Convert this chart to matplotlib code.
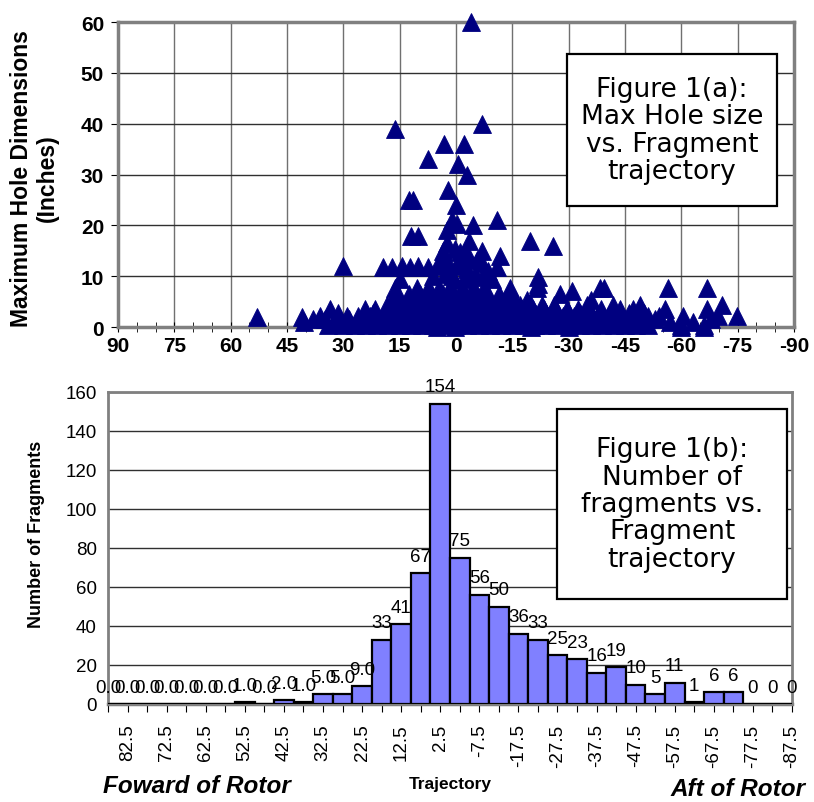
import matplotlib
matplotlib.use("Agg")
import matplotlib.pyplot as plt
from matplotlib.patches import Rectangle

plt.rcParams['font.family'] = 'Liberation Sans'
plt.rcParams['axes.unicode_minus'] = False

# ---- Figure 1(a): max hole size vs trajectory ----
# isolated points above the dense band
upper_traj = [-4, 16.3, -7, 3.2, -2, 7.5, -0.5, -3, 2, 12.5, 11.5, 0,
              12, 10, 2.4, -0.3, -4.5, -11, 1, -19.7, -25.8, 30, 53, 41, 40.5,
              3.5, 0.3, -1, -3, -7, -11.7, -2.5,
              19.4, 17, 14.4, 12.3, 10.1, 7.5, -7, -11, 5, 2, 0, -3,
              15, -2, -7, -21.8, -21.8, 6, 3, 1, -5, 0.5, -9.5,
              -31, -14.9, -60, -66, 5, 0.3, -20, -30,
              4, -1.5, -5.5, 2.5, -3.5, -8.5]
upper_hole = [60, 39, 40, 36, 36, 33, 32, 30, 27, 25, 25, 24,
              18, 18, 19, 20.3, 20, 21, 21, 17, 16, 12, 2, 2, 1,
              15, 15.3, 14.8, 14.5, 15, 14, 14,
              11.8, 11.8, 12, 11.8, 12, 11.8, 12.6, 11.8, 12, 12.5, 12, 11.5,
              9.5, 9.4, 9.8, 9.8, 8.5, 10, 10.5, 10, 10.5, 9.5, 9.5,
              7, 6, 0, 0, 0, 0, 0, 0,
              13, 12.8, 13.2, 16.5, 17, 11]

# dense band near the axis: one list of trajectories per height level
band_levels = [0.3, 0.9, 1.5, 2.1, 2.8, 3.5, 4.4, 5.4, 6.4, 7.6]
band_rows = [
    [34, 30, 27, 24, 21, 18, 15, 12, 9, 6, 3, 0, -3, -6, -9, -12, -15, -18,
     -21, -24, -27, -30, -33, -36, -39, -42, -45, -48, -51, -60, -66],
    [32.5, 25.5, 22.5, 19.5, 16.5, 13.5, 10.5, 7.5, 4.5, 1.5, -1.5, -4.5,
     -7.5, -10.5, -13.5, -16.5, -19.5, -22.5, -25.5, -28.5, -31.5, -34.5,
     -37.5, -40.5, -43.5, -46.5, -49.5, -57, -63],
    [38, 35, 31, 28.5, 24, 21, 18, 15, 12, 9, 6, 3, 0, -3, -6, -9, -12, -15,
     -18, -21, -24, -27, -30, -33, -36, -39, -42, -45, -48, -53, -68],
    [36.2, 29, 26, 23, 19.5, 16.5, 13.5, 10.5, 7.5, 4.5, 1.5, -1.5, -4.5,
     -7.5, -10.5, -13.5, -16.5, -19.5, -22.5, -25.5, -28.5, -31.5, -34.5,
     -37.5, -40.5, -44, -47.5, -51, -54, -60.4, -69.7, -74.8],
    [31.4, 22, 18, 15, 12, 9, 6, 3, 0, -3, -6, -9, -12, -15, -18, -21, -24,
     -27, -30, -33, -36, -39, -42, -46, -50],
    [33.6, 24.2, 21.6, 18.5, 15.5, 12.5, 9.5, 6.5, 3.5, 0.5, -2.5, -5.5,
     -8.5, -11.5, -14.5, -17.5, -20.5, -23.5, -26.5, -29.5, -32.5, -35.5,
     -38.5, -43.6, -47, -55.6, -66.8],
    [18.4, 14, 11, 8, 5, 2, -1, -4, -7, -10, -13, -17, -20, -23, -26, -34.9,
     -41.8, -49, -70.8],
    [17, 13, 10, 7, 4, 1, -2, -5, -8, -11, -14, -19, -36],
    [16, 12.5, 9.5, 6.5, 3.5, 0.5, -2.5, -5.5, -8.5, -11.5, -14.9, -27.7],
    [16.3, 10.5, 7.5, 4.5, 1.5, -1.5, -4.5, -7.5, -14.4, -21.5, -38.3,
     -39.5, -56.4, -66.8],
]

# ---- Figure 1(b): number of fragments per 5 degree bin ----
bin_centers = [87.5, 82.5, 77.5, 72.5, 67.5, 62.5, 57.5, 52.5, 47.5, 42.5,
               37.5, 32.5, 27.5, 22.5, 17.5, 12.5, 7.5, 2.5, -2.5, -7.5,
               -12.5, -17.5, -22.5, -27.5, -32.5, -37.5, -42.5, -47.5, -52.5,
               -57.5, -62.5, -67.5, -72.5, -77.5, -82.5, -87.5]
frag_counts = [0, 0, 0, 0, 0, 0, 0, 1, 0, 2, 1, 5, 5, 9, 33, 41, 67, 154, 75,
               56, 50, 36, 33, 25, 23, 16, 19, 10, 5, 11, 1, 6, 6, 0, 0, 0]
n_decimal_labels = 14   # first bins were labelled "0.0", "1.0", ...

traj = list(upper_traj)
hole = list(upper_hole)
for lev, xs in zip(band_levels, band_rows):
    traj += xs
    hole += [lev] * len(xs)

fig = plt.figure(figsize=(8.14, 8.03), dpi=100)

# %% top scatter
ax1 = fig.add_axes([118 / 814, 1 - 328 / 803, 676 / 814, 305 / 803])
ax1.plot(traj, hole, linestyle='none', marker='^', markersize=12.5,
         color='#000080', markeredgecolor='#000080', markeredgewidth=0.6,
         clip_on=False, zorder=3)
ax1.set_xlim(90, -90)
ax1.set_ylim(0, 60)
ax1.set_xticks(range(90, -91, -15))
ax1.set_xticks(range(90, -91, -5), minor=True)
ax1.set_yticks(range(0, 61, 10))
ax1.grid(True, which='major', axis='x', color='#707070', linewidth=1)
ax1.grid(True, which='major', axis='y', color='#303030', linewidth=1)
ax1.set_axisbelow(True)
for s in ax1.spines.values():
    s.set_color('#808080')
    s.set_linewidth(2.5)
ax1.tick_params(axis='x', which='both', direction='inout', length=7,
                labelsize=15, pad=3)
ax1.tick_params(axis='y', direction='out', length=5, labelsize=15, pad=5)
for lbl in ax1.get_xticklabels() + ax1.get_yticklabels():
    lbl.set_fontweight('bold')
ax1.set_ylabel('Maximum Hole Dimensions\n(Inches)', fontsize=16.5,
               fontweight='bold', linespacing=1.2)
ax1.yaxis.set_label_coords(-0.087, 0.49)

# %% bottom histogram
ax2 = fig.add_axes([108 / 814, 1 - 705 / 803, 684 / 814, 312 / 803])
pos = list(range(len(bin_centers)))
ax2.bar(pos, frag_counts, width=1.0, color='#8080ff', edgecolor='black',
        linewidth=1.6, zorder=3)
ax2.set_xlim(0, len(bin_centers) - 1)
ax2.set_ylim(0, 160)
ax2.set_yticks(range(0, 161, 20))
ax2.set_xticks(pos)
ax2.set_xticklabels([str(b) if i % 2 == 1 else '' for i, b in enumerate(bin_centers)],
                    rotation=90)
ax2.grid(True, axis='y', color='#303030', linewidth=1)
ax2.set_axisbelow(True)
for s in ax2.spines.values():
    s.set_color('#808080')
    s.set_linewidth(2)
ax2.spines['bottom'].set_linewidth(2.5)
ax2.tick_params(axis='x', direction='out', length=6, labelsize=13.5, pad=8)
ax2.tick_params(axis='y', direction='out', length=0, labelsize=13.5, pad=8)
for i, v in enumerate(frag_counts):
    txt = f'{v:.1f}' if i < n_decimal_labels else f'{v:d}'
    ax2.annotate(txt, (i, v), xytext=(0, 6), textcoords='offset points',
                 ha='center', va='bottom', fontsize=13.5, annotation_clip=False,
                 zorder=4)
ax2.set_ylabel('Number of Fragments', fontsize=13, fontweight='bold')
ax2.yaxis.set_label_coords(-0.092, 0.548)

# %% captions and boxes
fig.text(103 / 814, 1 - 787 / 803, 'Foward of Rotor', fontsize=17.5,
         fontweight='bold', fontstyle='italic', ha='left', va='center')
fig.text(450 / 814, 1 - 785 / 803, 'Trajectory', fontsize=12.5,
         fontweight='bold', ha='center', va='center')
fig.text(806 / 814, 1 - 790 / 803, 'Aft of Rotor', fontsize=17.5,
         fontweight='bold', fontstyle='italic', ha='right', va='center')

boxes = [
    ((567, 55, 210, 152), 'Figure 1(a):\nMax Hole size\nvs. Fragment\ntrajectory'),
    ((557, 410, 230, 190), 'Figure 1(b):\nNumber of\nfragments vs.\nFragment\ntrajectory'),
]
for (bx, by, bw, bh), label in boxes:
    fig.add_artist(Rectangle((bx / 814, 1 - (by + bh) / 803), bw / 814, bh / 803,
                             transform=fig.transFigure, facecolor='white',
                             edgecolor='black', linewidth=1.6, zorder=5))
    fig.text((bx + bw / 2) / 814, 1 - (by + bh / 2) / 803, label,
             family='DejaVu Sans', fontsize=19, ha='center', va='center',
             linespacing=1.07, zorder=6)

fig.savefig('out.png', dpi=100)
